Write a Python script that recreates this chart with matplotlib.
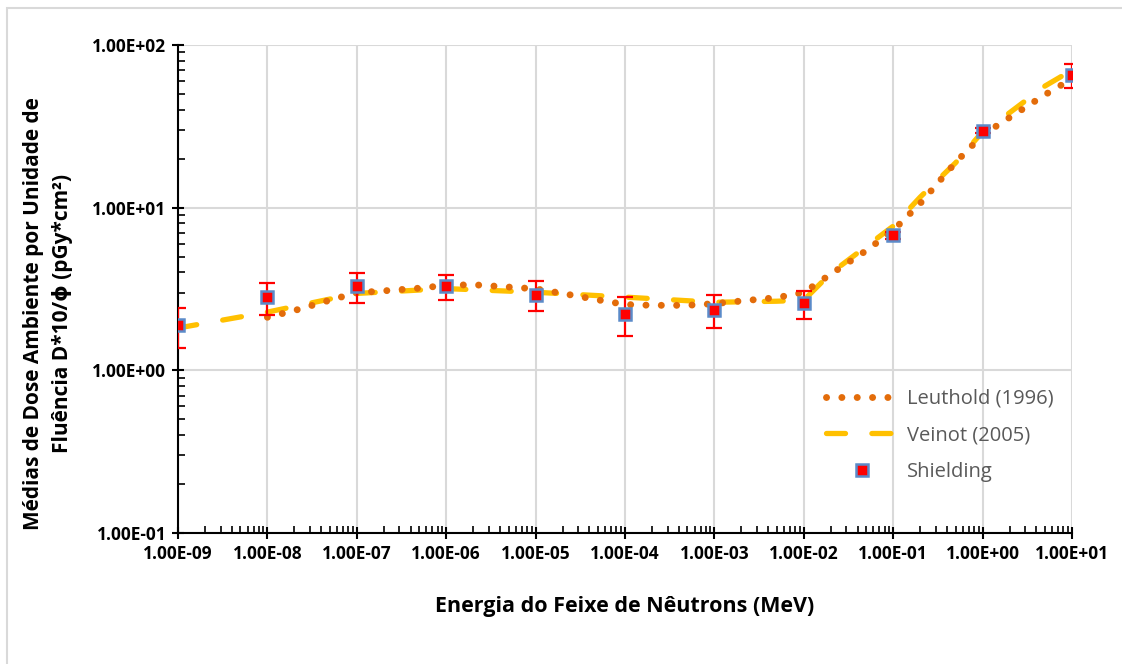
import matplotlib
matplotlib.use("Agg")
import matplotlib.pyplot as plt
from matplotlib.patches import Rectangle
from matplotlib.ticker import LogLocator, FixedLocator, NullFormatter

plt.rcParams['font.family'] = ['Open Sans', 'DejaVu Sans']

# Leuthold (1996)
leu_E = [1e-8, 2e-8, 5e-8, 1e-7, 2e-7, 5e-7, 1e-6, 2e-6, 5e-6, 1e-5, 2e-5, 5e-5,
         1e-4, 2e-4, 5e-4, 1e-3, 2e-3, 5e-3, 1e-2, 2e-2, 5e-2, 1e-1, 2e-1, 5e-1,
         1e0, 2e0, 5e0, 1e1]
leu_H = [2.12, 2.33, 2.70, 3.00, 3.08, 3.20, 3.33, 3.36, 3.25, 3.17, 2.97, 2.71,
         2.54, 2.51, 2.51, 2.57, 2.67, 2.80, 3.01, 3.90, 5.45, 7.25, 10.6, 19.0,
         28.0, 35.8, 49.5, 62.0]

# Veinot (2005)
vei_E = [1e-9, 1e-8, 1e-7, 1e-6, 1e-5, 1e-4, 1e-3, 5e-3, 1e-2, 2e-2, 5e-2,
         1e-1, 2e-1, 5e-1, 1e0, 2e0, 5e0, 1e1]
vei_H = [1.82, 2.28, 2.97, 3.18, 3.02, 2.82, 2.62, 2.66, 2.70, 3.95, 5.78,
         7.7, 11.6, 18.9, 29.3, 38.3, 56.0, 70.0]

# Shielding
shi_E = [1e-9, 1e-8, 1e-7, 1e-6, 1e-5, 1e-4, 1e-3, 1e-2, 1e-1, 1e0, 1e1]
shi_H = [1.89, 2.81, 3.28, 3.28, 2.92, 2.22, 2.36, 2.58, 6.76, 29.7, 65.7]
shi_err = [0.52, 0.62, 0.70, 0.57, 0.60, 0.60, 0.55, 0.50, 0.30, 1.0, 11.0]

x_ticks = [1e-9, 1e-8, 1e-7, 1e-6, 1e-5, 1e-4, 1e-3, 1e-2, 1e-1, 1e0, 1e1]
x_labels = ['1.00E-09', '1.00E-08', '1.00E-07', '1.00E-06', '1.00E-05', '1.00E-04',
            '1.00E-03', '1.00E-02', '1.00E-01', '1.00E+00', '1.00E+01']
y_ticks = [1e-1, 1e0, 1e1, 1e2]
y_labels = ['1.00E-01', '1.00E+00', '1.00E+01', '1.00E+02']

fig = plt.figure(figsize=(11.22, 6.64), dpi=100)
ax = fig.add_axes([178/1122, 1-533/664, (1072-178)/1122, (533-45)/664])

# chart border
fig.patches.append(Rectangle((7/1122, -0.1), 1.2, 1 - 8/664 + 0.1, transform=fig.transFigure,
                             fill=False, edgecolor='#D9D9D9', linewidth=1.5))

ax.plot(leu_E, leu_H, color='#E36C0A', linewidth=5,
        linestyle=(0, (0.01, 2.2)), dash_capstyle='round', label='Leuthold (1996)', zorder=3)
ax.plot(vei_E, vei_H, color='#FFC000', linewidth=3.8,
        linestyle=(0, (3.6, 5.0)), dash_capstyle='round', label='Veinot (2005)', zorder=2)
ax.errorbar(shi_E, shi_H, yerr=shi_err, fmt='none', ecolor='#FF0000', elinewidth=1.6,
            capsize=6, capthick=1.6, zorder=4)
ax.plot(shi_E, shi_H, linestyle='none', marker='s', markersize=8.8,
        markerfacecolor='#FF0000', markeredgecolor='#5B8BC9', markeredgewidth=1.8,
        label='Shielding', zorder=5)

ax.set_xscale('log')
ax.set_yscale('log')
ax.set_xlim(1e-9, 1e1)
ax.set_ylim(1e-1, 1e2)

ax.xaxis.set_major_locator(FixedLocator(x_ticks))
ax.set_xticklabels(x_labels)
ax.yaxis.set_major_locator(FixedLocator(y_ticks))
ax.set_yticklabels(y_labels)
ax.xaxis.set_minor_locator(LogLocator(base=10, subs=range(2, 10), numticks=50))
ax.yaxis.set_minor_locator(LogLocator(base=10, subs=range(2, 10), numticks=50))
ax.xaxis.set_minor_formatter(NullFormatter())
ax.yaxis.set_minor_formatter(NullFormatter())

ax.grid(True, which='major', color='#D9D9D9', linewidth=1.5, zorder=0)
ax.set_axisbelow(True)
for s in ['top', 'right']:
    ax.spines[s].set_visible(False)
for s in ['left', 'bottom']:
    ax.spines[s].set_color('black')
    ax.spines[s].set_linewidth(1.5)

ax.tick_params(which='major', direction='inout', length=9, width=1.5, labelsize=12.5,
               pad=4)
ax.tick_params(which='minor', direction='in', length=5, width=1.2)
for lab in ax.get_xticklabels() + ax.get_yticklabels():
    lab.set_fontweight('bold')

ax.set_xlabel('Energia do Feixe de Nêutrons (MeV)', fontsize=15.5, fontweight='bold',
              labelpad=24)
ax.set_ylabel('Médias de Dose Ambiente por Unidade de\nFluência D*10/ϕ (pGy*cm²)',
              fontsize=15, fontweight='bold', linespacing=1.45)
ax.yaxis.set_label_coords(-0.118, 0.45)

leg = ax.legend(loc='lower right', bbox_to_anchor=(1.0, 0.068), frameon=False,
                fontsize=14.5, handlelength=3.6, labelspacing=0.82, handletextpad=0.45)
for t in leg.get_texts():
    t.set_color('#595959')

fig.savefig('out.png', dpi=100)
